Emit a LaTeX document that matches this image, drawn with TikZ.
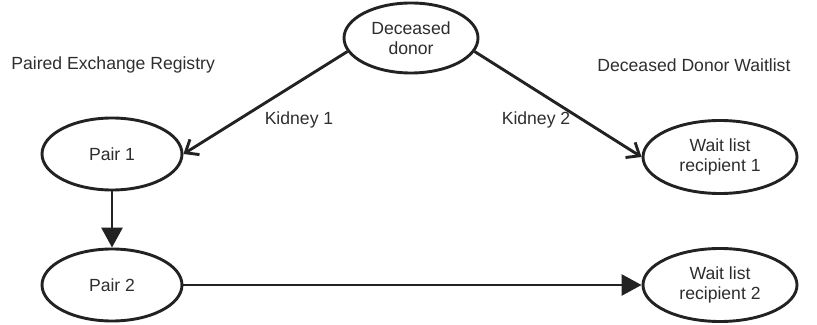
\documentclass[tikz,border=0pt]{standalone}
\usepackage{fontspec}
\setmainfont{Liberation Sans}
\usetikzlibrary{arrows.meta,shapes.geometric}
\definecolor{kxline}{HTML}{222222}
\definecolor{kxtext}{HTML}{2E2E2E}

\begin{document}
\begin{tikzpicture}[
  x=0.5pt, y=-0.5pt,
  font=\fontsize{8.8}{10}\selectfont,
  party/.style={ellipse, draw=kxline, line width=1.45pt, fill=white,
                align=center, inner sep=0pt, text=kxtext,
                minimum width=70pt, minimum height=36pt},
  donorbox/.style={party, minimum width=67pt, minimum height=35pt},
  waitbox/.style={party, minimum width=77pt, minimum height=36.5pt},
  lbl/.style={text=kxtext, inner sep=0pt},
  arr/.style={-{Straight Barb[length=5.5pt, width=9pt, line width=1.45pt]}, kxline, line width=1.45pt},
  arrf/.style={-{Triangle[length=10pt, width=10.5pt]}, kxline, line width=1.45pt},
]
\useasboundingbox (0,0) rectangle (817,325);

% ---------------- parties ------------------------------------------
\node[donorbox] (donor) at (411,38) {Deceased\\donor};
\node[party] (pair1) at (112,154) {Pair 1};
\node[party] (pair2) at (112,285) {Pair 2};
\node[waitbox] (wl1) at (720,157) {Wait list\\recipient 1};
\node[waitbox] (wl2) at (720,285) {Wait list\\recipient 2};

% ---------------- headings -----------------------------------------
\node[lbl, anchor=west] (reg) at (11,65) {Paired Exchange Registry};
\node[lbl, anchor=west] (wlist) at (597,65) {Deceased Donor Waitlist};

% ---------------- flow ---------------------------------------------
\draw[arr] (donor.192) -- (pair1.east);
\draw[arr] (donor.-12) -- (wl1.west);
\draw[arrf] (pair1.south) -- (pair2.north);
\draw[arrf] (pair2.east) -- (wl2.west);

\node[lbl] (k1) at (299,120) {Kidney 1};
\node[lbl] (k2) at (536,120) {Kidney 2};

\end{tikzpicture}
\end{document}
